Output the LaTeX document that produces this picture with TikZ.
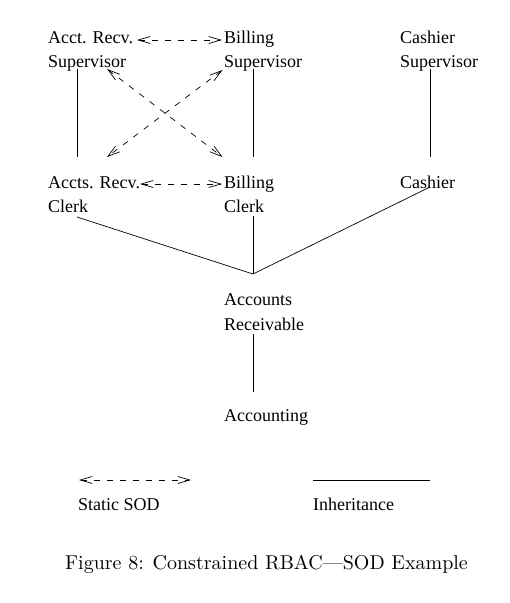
\documentclass[tikz,border=0pt]{standalone}
\usepackage{fontspec}
\newfontfamily\timesfont{Liberation Serif}
\usetikzlibrary{arrows.meta}
\begin{document}
\begin{tikzpicture}[x=1pt,y=-1pt,
  role/.style={anchor=base west, inner sep=0pt, align=left, font=\timesfont\fontsize{18}{24.5}\selectfont},
  inh/.style={line width=0.7pt},
  sod/.style={line width=0.7pt, dash pattern=on 6pt off 7pt,
    {Straight Barb[length=12pt,width=7pt]}-{Straight Barb[length=12pt,width=7pt]}}]
\useasboundingbox (0,0) rectangle (510,603);
% roles (base anchor = baseline of last line)
\node[role] (arsup) at (48,67.5) {Acct. Recv.\\Supervisor};
\node[role] (bsup) at (224,67.5) {Billing\\Supervisor};
\node[role] (csup) at (400,67.5) {Cashier\\Supervisor};
\node[role] (arclerk) at (48,212.5) {Accts. Recv.\\Clerk};
\node[role] (bclerk) at (224,212.5) {Billing\\Clerk};
\node[role] (cashier) at (400,188) {Cashier};
\node[role] (ar) at (224,330) {Accounts\\Receivable};
\node[role] (acct) at (224,421) {Accounting};
\node[role] (sodtxt) at (78,510) {Static SOD};
\node[role] (inhtxt) at (313,510) {Inheritance};
\node[anchor=base, inner sep=0pt] (cap) at (266.5,569)
  {\scalebox{2}{\fontsize{10}{12}\selectfont Figure 8: Constrained RBAC---SOD Example}};
% connector end points
\coordinate (arsupB) at (77,69);   \coordinate (arclerkT) at (77,157);
\coordinate (bsupB) at (253,69);   \coordinate (bclerkT) at (253,157);
\coordinate (csupB) at (430,69);   \coordinate (cashierT) at (430,157);
\coordinate (arclerkB) at (77,217); \coordinate (bclerkB) at (253,216);
\coordinate (cashierB) at (430,187); \coordinate (arT) at (253,274);
\coordinate (arB) at (253,334);    \coordinate (acctT) at (253,392);
\coordinate (sodR1) at (137,40);   \coordinate (sodR2) at (222,40);
\coordinate (sodC1) at (140,184);  \coordinate (sodC2) at (222,184);
\coordinate (xA1) at (107,69);     \coordinate (xA2) at (222.5,157);
\coordinate (xB1) at (222.5,70);   \coordinate (xB2) at (107,157);
\coordinate (legS1) at (79,480);   \coordinate (legS2) at (191,480);
\coordinate (legI1) at (313,480);  \coordinate (legI2) at (430,480);
% inheritance
\draw[inh] (arsupB) -- (arclerkT);
\draw[inh] (bsupB) -- (bclerkT);
\draw[inh] (csupB) -- (cashierT);
\draw[inh] (arclerkB) -- (arT);
\draw[inh] (bclerkB) -- (arT);
\draw[inh] (cashierB) -- (arT);
\draw[inh] (arB) -- (acctT);
% static SOD
\draw[sod] (sodR1) -- (sodR2);
\draw[sod] (sodC1) -- (sodC2);
\draw[sod] (xA1) -- (xA2);
\draw[sod] (xB1) -- (xB2);
% legend
\draw[sod] (legS1) -- (legS2);
\draw[inh] (legI1) -- (legI2);
\end{tikzpicture}
\end{document}
